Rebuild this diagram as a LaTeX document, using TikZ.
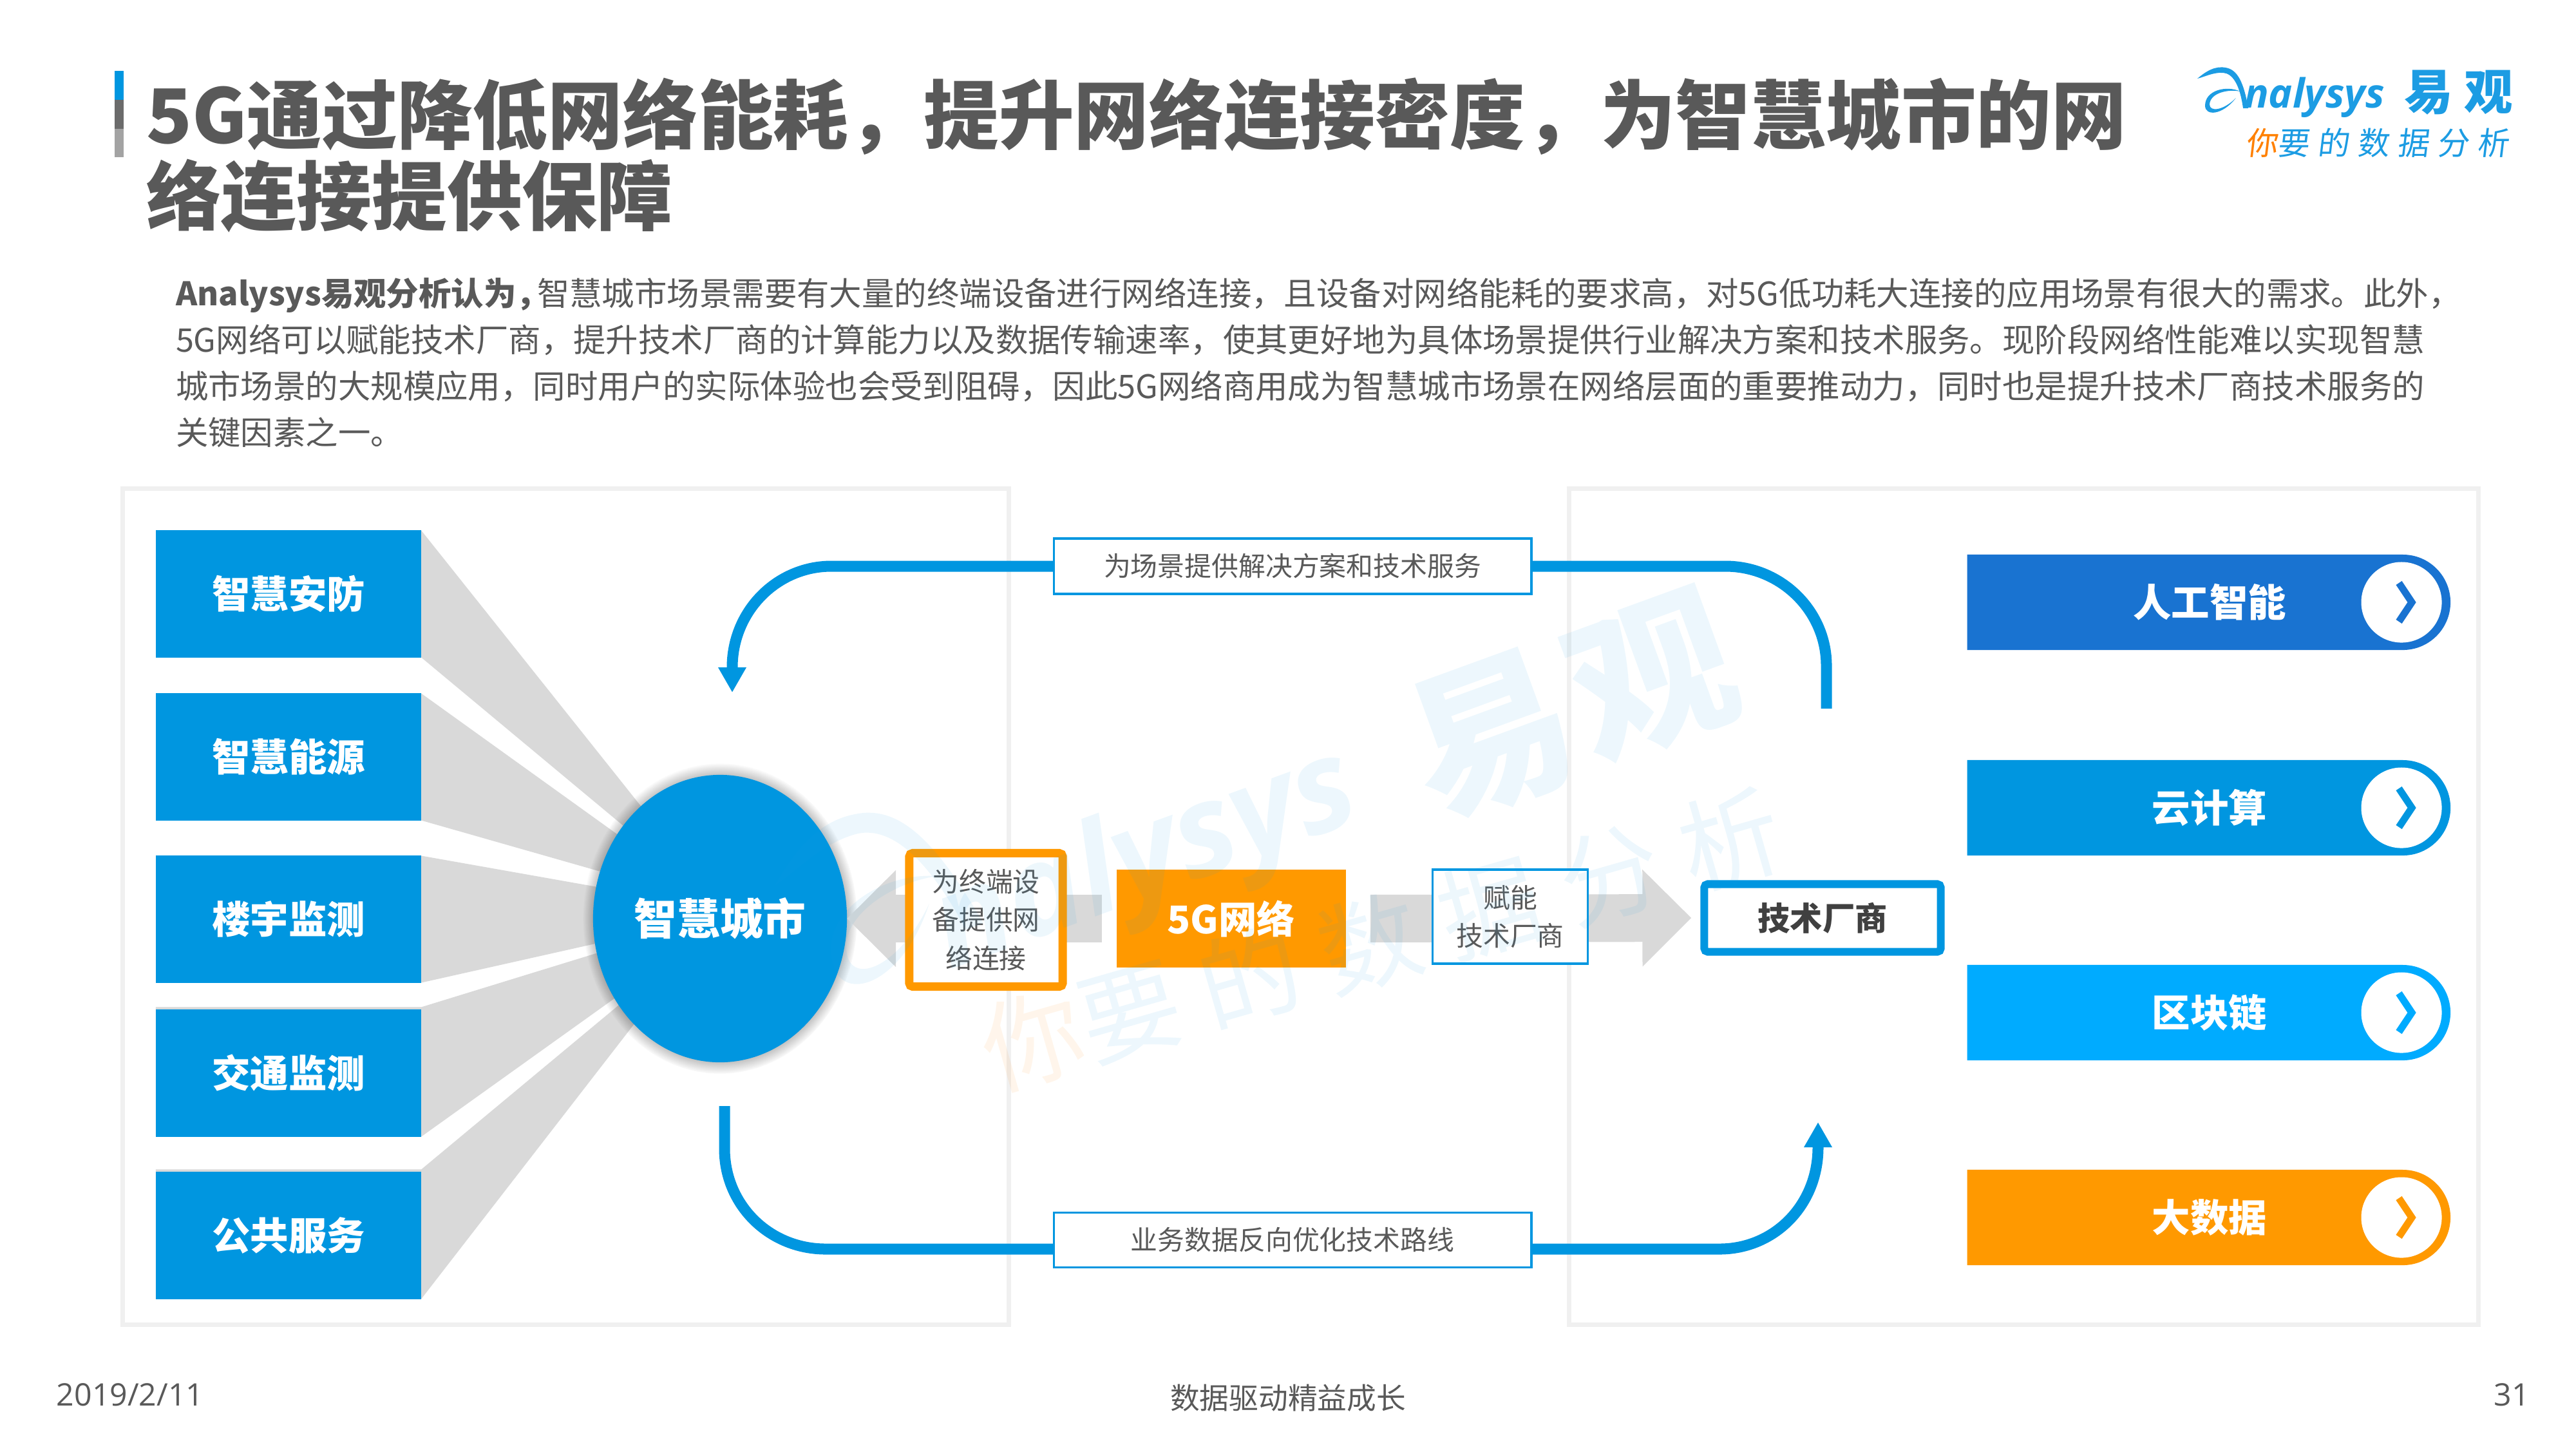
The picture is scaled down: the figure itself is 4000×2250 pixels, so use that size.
\documentclass[tikz,border=0pt]{standalone}
\usepackage{fontspec}
\usepackage{color}
\usepackage{tikz}
\usetikzlibrary{arrows.meta,shapes.geometric,shapes.misc,shadows,backgrounds}
\setmainfont{Noto Sans CJK SC}
\newfontfamily\latinfont{Open Sans}
\newfontfamily\spacedfont[LetterSpace=24]{Noto Sans CJK SC}
\newfontfamily\slantfont[LetterSpace=26,FakeSlant=.12]{Noto Sans CJK SC}
\definecolor{skyblue}{rgb}{0,0.59,0.88}
\definecolor{deepblue}{rgb}{0.10,0.45,0.82}
\definecolor{lightblue}{rgb}{0,0.67,1}
\definecolor{amber}{rgb}{1,0.60,0}
\definecolor{textgray}{rgb}{0.35,0.35,0.35}
\definecolor{fangray}{rgb}{0.85,0.85,0.85}
\definecolor{panelgray}{rgb}{0.94,0.94,0.94}
\definecolor{logoblue}{rgb}{0.11,0.61,0.89}

\begin{document}
\begin{tikzpicture}[x=0.01cm,y=-0.01cm,inner sep=0pt,outer sep=0pt,text=textgray,
	panel/.style={draw=panelgray,line width=.07cm},
	fan/.style={fill=fangray},
	scene/.style={fill=skyblue,text=white,minimum width=4.12cm,minimum height=1.97cm,font=\fontsize{16.9}{20}\selectfont\bfseries},
	city/.style={ellipse,fill=skyblue,text=white,minimum width=3.94cm,minimum height=4.46cm,font=\fontsize{19}{23}\selectfont\bfseries,
		circular drop shadow={shadow scale=1.08,shadow xshift=0pt,shadow yshift=0pt,fill=black,opacity=.45}},
	note/.style={draw=skyblue,fill=white,line width=.035cm,font=\fontsize{11.9}{17}\selectfont,align=center},
	block/.style={draw=fangray,line width=.74cm,-{Triangle[length=.76cm,width=1.46cm]}},
	flow/.style={draw=skyblue,line width=.17cm},
	flowtip/.style={flow,-{Triangle[length=.39cm,width=.41cm]}},
	pill/.style={rounded rectangle,rounded rectangle west arc=none,text=white,minimum width=7.5cm,minimum height=1.48cm,font=\fontsize{16.9}{20}\selectfont\bfseries,execute at begin node=\hspace{.08cm}},
	ring/.style={circle,fill=white,minimum size=1.25cm},
	chevron/.pic={\draw[line width=.11cm] (-4,-30) -- (16,0) -- (-4,30);},
	swoosh/.pic={
		\fill (0,0) .. controls (14,-12) and (28,-20) .. (44,-17) .. controls (62,-14) and (72,5) .. (79,46) -- (71,46) .. controls (66,10) and (55,-8) .. (40,-9) .. controls (25,-10) and (12,-3) .. (0,0) -- cycle;
		\fill (67,20) .. controls (45,10) and (12,18) .. (12,42) .. controls (12,58) and (38,58) .. (60,30) .. controls (40,50) and (19,52) .. (19,40) .. controls (20,22) and (48,16) .. (67,20) -- cycle;},
	watermark/.style={opacity=.08,text=logoblue}]

    \useasboundingbox (0,0) rectangle (4000,2250);

    \fill[skyblue] (178,110) rectangle (192,155);
    \fill[black!58] (178,155) rectangle (192,200);
    \fill[black!36] (178,200) rectangle (192,244);
    \node (title) [anchor=west,align=left,font=\fontsize{33.2}{35.8}\selectfont\bfseries] at (227,241) {5G通过降低网络能耗，提升网络连接密度，为智慧城市的网\\络连接提供保障};
    \node (body) [anchor=west,align=left,font=\fontsize{14.34}{20.5}\selectfont] at (273,563) {\textbf{Analysys易观分析认为，}\hspace{-.18cm}智慧城市场景需要有大量的终端设备进行网络连接，且设备对网络能耗的要求高，对5G低功耗大连接的应用场景有很大的需求。此外，\\5G网络可以赋能技术厂商，提升技术厂商的计算能力以及数据传输速率，使其更好地为具体场景提供行业解决方案和技术服务。现阶段网络性能难以实现智慧\\城市场景的大规模应用，同时用户的实际体验也会受到阻碍，因此5G网络商用成为智慧城市场景在网络层面的重要推动力，同时也是提升技术厂商技术服务的\\关键因素之一。};

    \pic[color=logoblue] at (3412,122) {swoosh};
    \node (logoname) [anchor=base west,text=logoblue,font=\fontsize{17.8}{20}\latinfont\bfseries\itshape] at (3485,167) {nalysys};
    \node (logocn) [anchor=west,text=logoblue,font=\fontsize{21.5}{24}\selectfont\bfseries\spacedfont] at (3733,144) {易观};
    \node (slogan) [anchor=west,text=logoblue,font=\fontsize{14}{16}\slantfont] at (3487,222) {\textcolor{orange}{你}要的数据分析};

    \draw[panel] (190,758) rectangle (1566,2056);
    \draw[panel] (2436,758) rectangle (3848,2056);

    \node (security) [scene] at (448,922) {智慧安防};
    \node (energy) [scene] at (448,1175) {智慧能源};
    \node (building) [scene] at (448,1427) {楼宇监测};
    \node (traffic) [scene] at (448,1666) {交通监测};
    \node (service) [scene] at (448,1918) {公共服务};

    \begin{scope}[on background layer]
    \fill[fan] (security.north east) -- (1002,1260) -- (980,1292) -- (security.south east) -- cycle;
    \fill[fan] (energy.north east) -- (968,1302) -- (950,1358) -- (energy.south east) -- cycle;
    \fill[fan] (building.north east) -- (945,1380) -- (942,1461) -- (building.south east) -- cycle;
    \fill[fan] ([yshift=.04cm]traffic.north west) -- ([yshift=.04cm]traffic.north east) -- (945,1474) -- (968,1540) -- (traffic.south east) -- (traffic.south west) -- cycle;
    \fill[fan] ([yshift=.04cm]service.north west) -- ([yshift=.04cm]service.north east) -- (972,1551) -- (993,1579) -- (service.south east) -- (service.south west) -- cycle;
    \end{scope}

    \node (smartcity) [city] at (1118,1426) {智慧城市};

    \node (fiveg) [fill=amber,text=white,minimum width=3.56cm,minimum height=1.51cm,font=\fontsize{16.9}{20}\selectfont\bfseries] at (1912,1426) {5G网络};
    \node (vendor) [draw=skyblue,fill=white,line width=.12cm,rounded corners=1.5pt,minimum width=3.67cm,minimum height=1.05cm,text=black!75,font=\fontsize{14.3}{17}\selectfont\bfseries] at (2830,1425) {技术厂商};

    \draw[block] (fiveg.west) [shorten <=.23cm] -- (smartcity.east);
    \draw[block] (fiveg.east) [shorten <=.38cm,shorten >=.2cm] -- (vendor.west);

    \node (connect) [note,draw=amber,line width=.13cm,rounded corners=1.5pt,minimum width=2.38cm,minimum height=2.07cm] at (1531,1428) {为终端设\\备提供网\\络连接};
    \node (enable) [note,minimum width=2.41cm,minimum height=1.46cm] at (2345,1423) {赋能\\技术厂商};
    \node (solution) [note,minimum width=7.41cm,minimum height=.86cm] at (2007,879) {为场景提供解决方案和技术服务};
    \node (feedback) [note,minimum width=7.41cm,minimum height=.85cm] at (2007,1925) {业务数据反向优化技术路线};

    \coordinate (solutionleft) at (1137,1075);
    \coordinate (solutionright) at (2836,1100);
    \coordinate (feedbackleft) at (1125,1717);
    \coordinate (feedbackright) at (2823,1742);
    \draw[flowtip] (solution.west) -- (1291,879) .. controls (1206,879) and (1137,949) .. (1137,1036) -- (solutionleft);
    \draw[flow] (solution.east) -- (2679,879) .. controls (2766,879) and (2836,949) .. (2836,1033) -- (solutionright);
    \draw[flow] (feedbackleft) -- (1125,1783) .. controls (1125,1871) and (1195,1939) .. (1282,1939) -- (feedback.west |- 1282,1939);
    \draw[flowtip] (feedback.east |- 2670,1939) -- (2670,1939) .. controls (2755,1939) and (2823,1871) .. (2823,1781) -- (feedbackright);

    \node (ai) [pill,fill=deepblue] at (3427,935) {人工智能};
    \node (cloud) [pill,fill=skyblue] at (3427,1254) {云计算};
    \node (chain) [pill,fill=lightblue] at (3427,1572) {区块链};
    \node (bigdata) [pill,fill=amber] at (3427,1890) {大数据};
    \node (ringai) [ring] at (3729,935) {};
    \node (ringcloud) [ring] at (3729,1254) {};
    \node (ringchain) [ring] at (3729,1572) {};
    \node (ringdata) [ring] at (3729,1890) {};
    \pic[color=deepblue] at (ringai) {chevron};
    \pic[color=skyblue] at (ringcloud) {chevron};
    \pic[color=lightblue] at (ringchain) {chevron};
    \pic[color=amber] at (ringdata) {chevron};

    \node (date) [font=\fontsize{13.7}{17}\latinfont] at (202,2165) {2019/2/11};
    \node (motto) [font=\fontsize{13}{16}\selectfont] at (2000,2170) {数据驱动精益成长};
    \node (pageno) [font=\fontsize{13.7}{17}\latinfont] at (3900,2165) {31};

    \pic[color=logoblue,opacity=.08,rotate=20,scale=3.6] at (1203,1375) {swoosh};
    \node (markname) [watermark,rotate=20,font=\fontsize{56}{70}\latinfont\bfseries\itshape] at (1780,1340) {nalysys};
    \node (markcn) [watermark,rotate=20,font=\fontsize{72}{80}\bfseries\spacedfont] at (2440,1097) {易\hspace{.12cm}观};
    \node (markslogan) [watermark,rotate=16,font=\fontsize{44.5}{50}\spacedfont] at (2145,1458) {\textcolor{orange}{你}要的数据分析};
\end{tikzpicture}
\end{document}
